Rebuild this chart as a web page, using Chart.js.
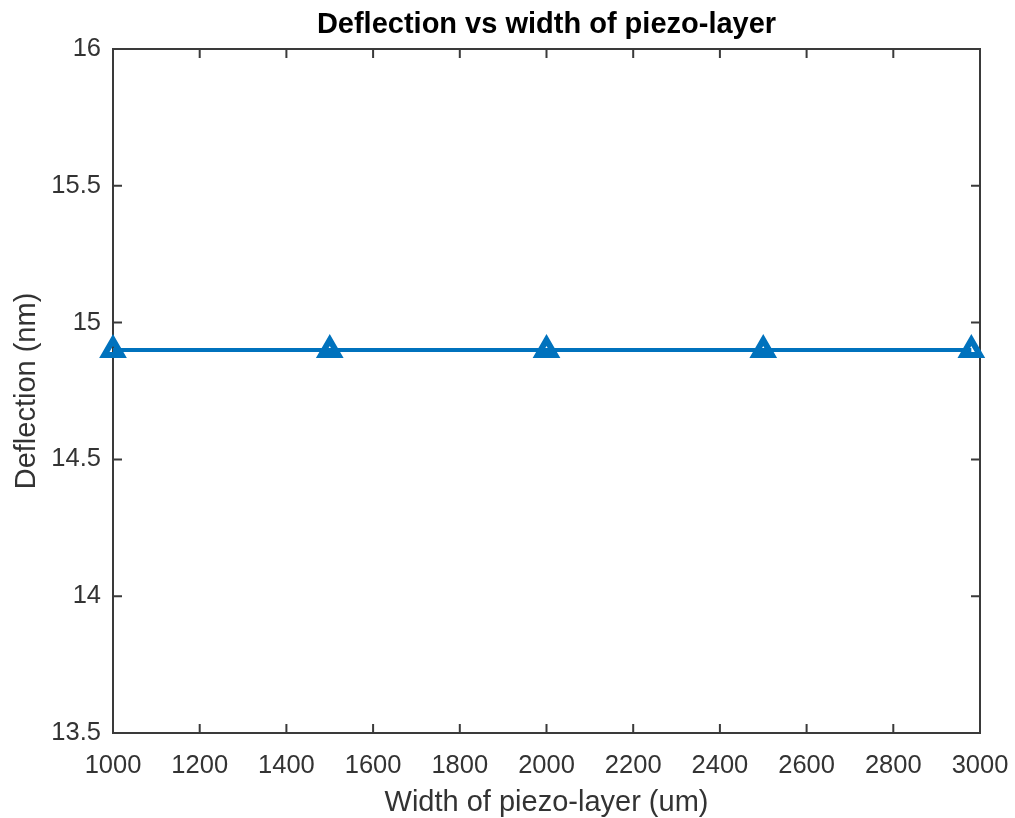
<!DOCTYPE html>
<html>
<head>
<meta charset="utf-8">
<title>Deflection vs width of piezo-layer</title>
<script src="https://cdn.jsdelivr.net/npm/chart.js@4.4.1/dist/chart.umd.min.js"></script>
<style>
    html, body { margin: 0; padding: 0; background: #fff; }
    #wrap { width: 1015px; height: 818px; }
</style>
</head>
<body>
<div id="wrap"><canvas id="chart" width="1015" height="818"></canvas></div>
<script>
// piezo width (um) and resulting deflection (nm)
var widths = [1000, 1500, 2000, 2500, 2980];
var deflection = [14.9, 14.9, 14.9, 14.9, 14.9];

var xTicks = [1000, 1200, 1400, 1600, 1800, 2000, 2200, 2400, 2600, 2800, 3000];
var yTicks = [13.5, 14, 14.5, 15, 15.5, 16];

var chartTitle = 'Deflection vs width of piezo-layer';

var FONT = "'Liberation Sans', Arial, Helvetica, sans-serif";
var AXIS_COLOR = '#3a3a3a';
var LINE_COLOR = '#0072BD';

//box + inward ticks like matlab axes, title centered over the plot box
var boxAxes = {
    id: 'boxAxes',
    beforeDatasetsDraw: function (chart) {
        var ctx = chart.ctx;
        var a = chart.chartArea;
        var xs = chart.scales.x;
        var ys = chart.scales.y;
        var len = 9;
        ctx.save();
        ctx.strokeStyle = AXIS_COLOR;
        ctx.lineWidth = 2;
        ctx.beginPath();
        xTicks.forEach(function (v) {
            var px = xs.getPixelForValue(v);
            ctx.moveTo(px, a.bottom); ctx.lineTo(px, a.bottom - len);
            ctx.moveTo(px, a.top); ctx.lineTo(px, a.top + len);
        });
        yTicks.forEach(function (v) {
            var py = ys.getPixelForValue(v);
            ctx.moveTo(a.left, py); ctx.lineTo(a.left + len, py);
            ctx.moveTo(a.right, py); ctx.lineTo(a.right - len, py);
        });
        ctx.stroke();
        ctx.strokeRect(a.left, a.top, a.right - a.left, a.bottom - a.top);

        ctx.fillStyle = '#000';
        ctx.font = 'bold 29px ' + FONT;
        ctx.textAlign = 'center';
        ctx.textBaseline = 'alphabetic';
        ctx.fillText(chartTitle, (a.left + a.right) / 2, a.top - 16);
        ctx.restore();
    }
};

var ctx = document.getElementById('chart');
var myChart = new Chart(ctx, {
    type: 'line',
    data: {
        datasets: [{
            label: 'Deflection',
            data: widths.map(function (w, i) { return { x: w, y: deflection[i] }; }),
            borderColor: LINE_COLOR,
            backgroundColor: 'rgba(0,0,0,0)',
            borderWidth: 4,
            pointStyle: 'triangle',
            pointRadius: 10,
            pointBorderWidth: 6,
            pointBorderColor: LINE_COLOR,
            pointBackgroundColor: 'rgba(0,0,0,0)',
            tension: 0,
            clip: false
        }]
    },
    options: {
        responsive: false,
        animation: false,
        devicePixelRatio: 1,
        layout: {
            padding: { left: 0, right: 35, top: 49, bottom: 0 }
        },
        scales: {
            x: {
                type: 'linear',
                min: 1000,
                max: 3000,
                afterBuildTicks: function (scale) {
                    scale.ticks = xTicks.map(function (v) { return { value: v }; });
                },
                afterFit: function (scale) {
                    scale.height = 85;
                    scale.paddingLeft = 0;
                    scale.paddingRight = 0;
                },
                grid: { display: false, drawTicks: false },
                border: { display: false },
                ticks: {
                    color: '#333',
                    padding: 18,
                    maxRotation: 0,
                    autoSkip: false,
                    font: { family: FONT, size: 25.5 },
                    callback: function (v) { return String(v); }
                },
                title: {
                    display: true,
                    text: 'Width of piezo-layer (um)',
                    color: '#333',
                    padding: { top: 0, bottom: -2 },
                    font: { family: FONT, size: 29 }
                }
            },
            y: {
                min: 13.5,
                max: 16,
                afterBuildTicks: function (scale) {
                    scale.ticks = yTicks.map(function (v) { return { value: v }; });
                },
                afterFit: function (scale) {
                    scale.width = 113;
                    scale.paddingTop = 0;
                    scale.paddingBottom = 0;
                },
                grid: { display: false, drawTicks: false },
                border: { display: false },
                ticks: {
                    color: '#333',
                    padding: 12,
                    autoSkip: false,
                    font: { family: FONT, size: 25.5 },
                    callback: function (v) { return String(v); }
                },
                title: {
                    display: true,
                    text: 'Deflection (nm)',
                    color: '#333',
                    padding: { top: 10, bottom: 0 },
                    font: { family: FONT, size: 29 }
                }
            }
        },
        plugins: {
            legend: { display: false },
            tooltip: { enabled: false },
            title: { display: false }
        }
    },
    plugins: [boxAxes]
});
</script>
</body>
</html>
